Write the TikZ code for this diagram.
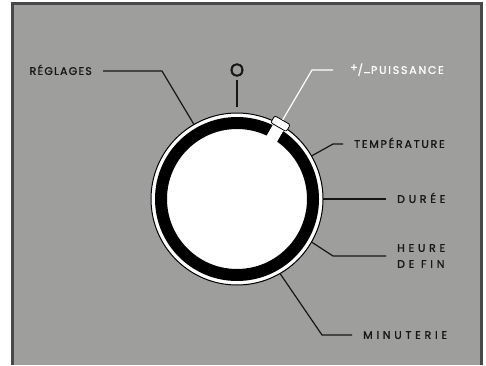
\documentclass[tikz,border=0pt]{standalone}
\usepackage{fontspec}
\setmainfont{Poppins}[LetterSpace=11, FakeBold=1.2]
\newfontfamily\spaced{Poppins}[LetterSpace=34, FakeBold=1.2]
\newfontfamily\wide{Poppins}[LetterSpace=16, FakeBold=1.2]
\usetikzlibrary{calc}

\definecolor{panelgray}{RGB}{158,158,156}
\definecolor{framegray}{RGB}{72,72,72}
\definecolor{inkblack}{RGB}{22,22,22}

\tikzset{
  label text/.style={font=\fontsize{11}{16}\selectfont, text=inkblack,
    inner xsep=11pt, inner ysep=0pt},
  caps/.style={text height=7.8pt, text depth=0pt},
  lead/.style={line width=1.2pt, inkblack},
}

\begin{document}
\begin{tikzpicture}[x=1pt,y=1pt]
    \useasboundingbox (0,0) rectangle (486,365);

            % Front panel
            \fill[panelgray] (11,0) rectangle (483,363);
            \draw[framegray, line width=3pt] (12.5,0) -- (12.5,361.5) -- (481.5,361.5) -- (481.5,0);

            % Knob body
            \node[circle, draw=black, line width=1pt, fill=white, minimum size=172pt,
              inner sep=0pt, outer sep=0pt] (dial) at (237,166) {};

            % Black ring, open at the pointer
            \draw[line width=12pt] (dial.center) circle (76);
            \node[fill=white, minimum width=20pt, minimum height=12pt, inner sep=0pt,
              rotate=60] (slot) at ($(dial.center)+(60:76)$) {};

            % Pointer
            \node[draw=black, line width=0.8pt, fill=white, rounded corners=2pt,
              minimum width=18pt, minimum height=8pt, inner sep=0pt, rotate=-30]
              (knob) at ($(dial.center)+(60:87)$) {};

            % Off mark
            \node[font=\fontsize{18}{18}\selectfont\addfontfeature{FakeBold=2.5}, text=inkblack,
              inner sep=0pt] (off) at (237,295) {O};
            \coordinate (tick) at (237,258);
            \draw[line width=2.8pt, inkblack] ($(off.south)+(0,-3)$) -- (tick);

            % Left label
            \node[label text, caps, anchor=east] (reglages) at (103,294) {RÉGLAGES};
            \draw[lead] (reglages.east) -- ++(59,0) -- (dial.120);

            % Right labels
            \node[label text, caps, text=white, inner xsep=17pt, anchor=west] (puissance) at (333,295)
              {\raisebox{2.5pt}{\addfontfeature{FakeBold=2}+}/\raisebox{2.2pt}{\addfontfeature{FakeBold=2}\_}\wide PUISSANCE};
            \draw[lead, white] (puissance.west) -- ++(-21,0) -- (knob.north);

            \node[label text, caps, anchor=west] (temperature) at (343,221) {\wide TEMPÉRATURE};
            \draw[lead] (temperature.west) -- ++(-10,0) -- (dial.30);

            \node[label text, caps, anchor=west] (duree) at (386,166) {\spaced DURÉE};
            \draw[lead] (duree.west) -- (dial.0);

            \node[label text, align=left, anchor=west] (heurefin) at (386,109) {\spaced HEURE\\\spaced DE FIN};
            \draw[lead] (heurefin.west) -- ++(-53,0) -- (dial.-30);

            \node[label text, caps, anchor=west] (minuterie) at (352,30) {\spaced MINUTERIE};
            \draw[lead] (minuterie.west) -- ++(-30,0) -- (dial.-60);
        \end{tikzpicture}
\end{document}
